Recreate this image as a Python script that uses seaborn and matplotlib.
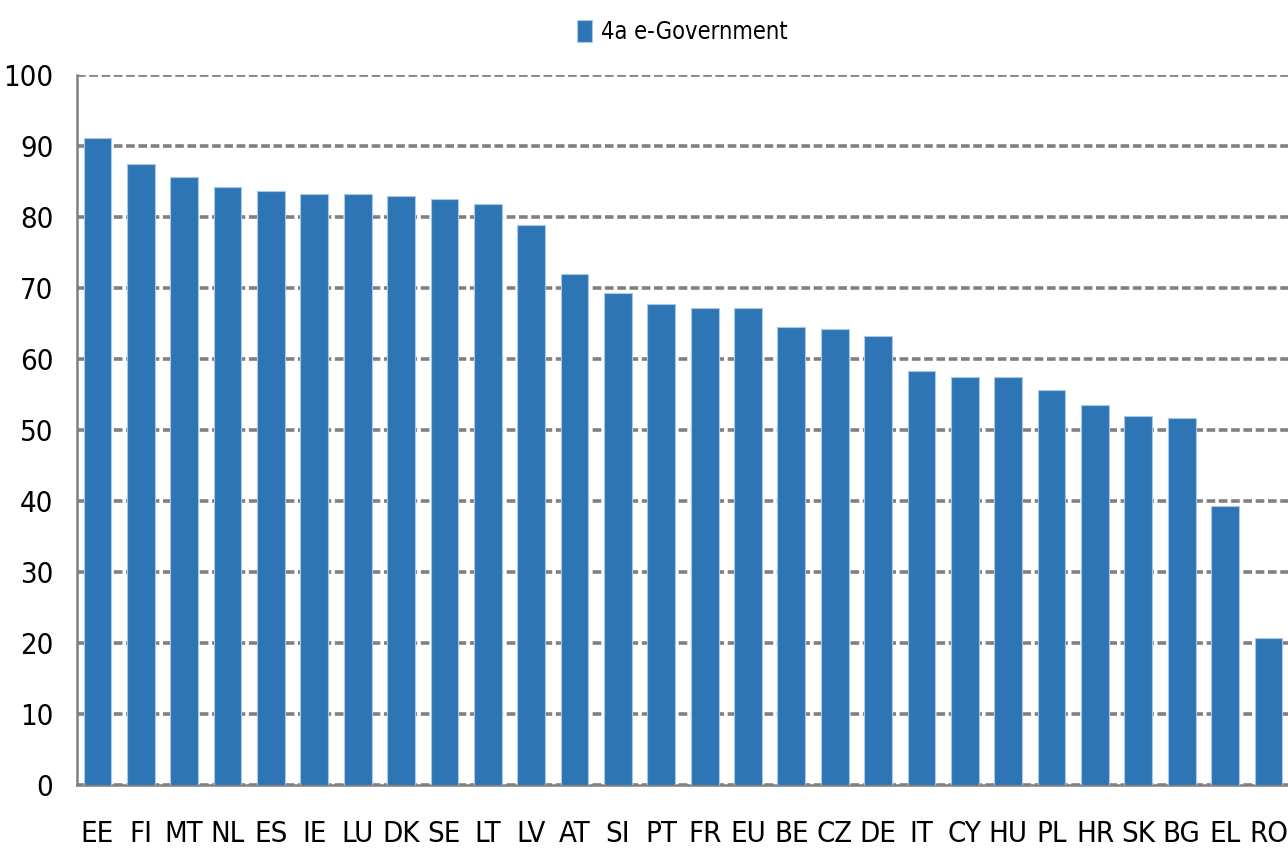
import matplotlib
matplotlib.use("Agg")
import matplotlib.pyplot as plt
import seaborn as sns

# data
countries = ["EE", "FI", "MT", "NL", "ES", "IE", "LU", "DK", "SE", "LT", "LV", "AT", "SI", "PT",
             "FR", "EU", "BE", "CZ", "DE", "IT", "CY", "HU", "PL", "HR", "SK", "BG", "EL", "RO"]
egov = [91.1, 87.5, 85.7, 84.2, 83.6, 83.3, 83.3, 83.0, 82.5, 81.8, 78.9, 72.0, 69.3, 67.8,
        67.2, 67.2, 64.5, 64.2, 63.3, 58.3, 57.4, 57.4, 55.6, 53.5, 52.0, 51.7, 39.3, 20.7]
series_name = "4a e-Government"
y_ticks = [0, 10, 20, 30, 40, 50, 60, 70, 80, 90, 100]

sns.set_style("white")
plt.rcParams['font.family'] = ['DejaVu Sans']
plt.rcParams['font.stretch'] = 'condensed'
plt.rcParams['text.color'] = 'black'
plt.rcParams['xtick.color'] = 'black'
plt.rcParams['ytick.color'] = 'black'

fig = plt.figure(figsize=(12.88, 8.56), dpi=100)
ax = fig.add_axes([0.0598, 0.0829, 0.9402, 0.8295])

sns.barplot(x=countries, y=egov, color="#2E75B6", width=0.64, saturation=1,
            edgecolor="#A9C8E8", linewidth=0.8, label=series_name, ax=ax, zorder=3)

ax.set_ylim(0, 100)
ax.set_xlim(-0.47, 27.45)
ax.set_yticks(y_ticks)
ax.yaxis.grid(True, color="#808080", linestyle=(0, (2.4, 1.0)), linewidth=2.6, zorder=0)
ax.set_axisbelow(True)

for side in ["top", "right"]:
    ax.spines[side].set_visible(False)
for side in ["left", "bottom"]:
    ax.spines[side].set_color("#808080")
    ax.spines[side].set_linewidth(1.8)

ax.tick_params(axis="y", labelsize=21, length=0, pad=17)
ax.tick_params(axis="x", labelsize=21, length=0, pad=25)
ax.set_xlabel("")
ax.set_ylabel("")

ax.legend(loc="upper center", bbox_to_anchor=(0.5, 1.108), frameon=False,
          prop={"family": "DejaVu Sans", "stretch": "condensed", "size": 17},
          handlelength=0.6, handleheight=1.1, handletextpad=0.4)

plt.savefig("out.png", dpi=100)
plt.close()
